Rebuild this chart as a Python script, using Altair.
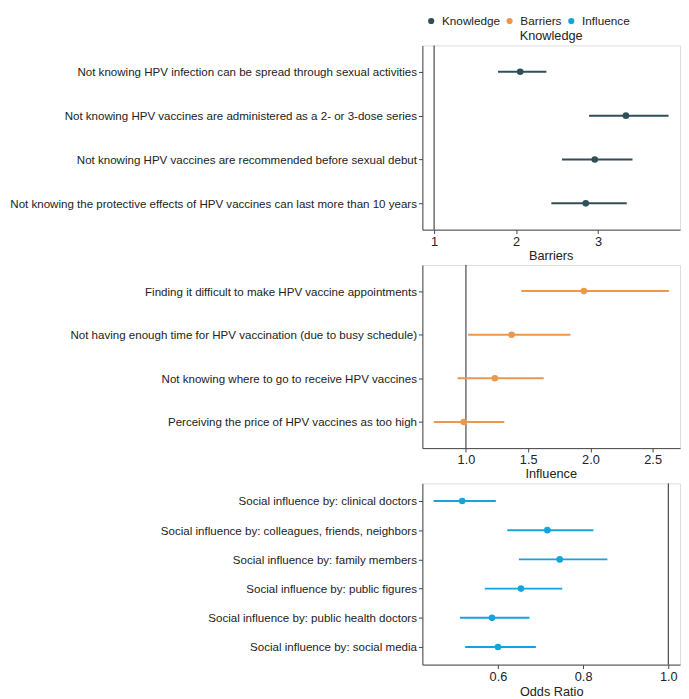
import altair as alt
import pandas as pd

groups = ["Knowledge", "Barriers", "Influence"]
colors = ["#2F4F57", "#E8994B", "#12A4DA"]

k_items = [
    "Not knowing HPV infection can be spread through sexual activities",
    "Not knowing HPV vaccines are administered as a 2- or 3-dose series",
    "Not knowing HPV vaccines are recommended before sexual debut",
    "Not knowing the protective effects of HPV vaccines can last more than 10 years",
]
k_or = [2.05, 3.34, 2.96, 2.85]
k_low = [1.78, 2.89, 2.56, 2.43]
k_high = [2.37, 3.86, 3.42, 3.35]

b_items = [
    "Finding it difficult to make HPV vaccine appointments",
    "Not having enough time for HPV vaccination (due to busy schedule)",
    "Not knowing where to go to receive HPV vaccines",
    "Perceiving the price of HPV vaccines as too high",
]
b_or = [1.948, 1.367, 1.232, 0.982]
b_low = [1.445, 1.018, 0.933, 0.742]
b_high = [2.63, 1.84, 1.625, 1.308]

i_items = [
    "Social influence by: clinical doctors",
    "Social influence by: colleagues, friends, neighbors",
    "Social influence by: family members",
    "Social influence by: public figures",
    "Social influence by: public health doctors",
    "Social influence by: social media",
]
i_or = [0.516, 0.716, 0.745, 0.654, 0.586, 0.600]
i_low = [0.449, 0.622, 0.649, 0.569, 0.511, 0.523]
i_high = [0.595, 0.824, 0.857, 0.751, 0.674, 0.689]

FONT = "Liberation Sans"
AXIS_COLOR = "#444444"


def panel(group, items, ors, lows, highs, domain, ticks, fmt, xtitle, height):
    df = pd.DataFrame({"item": items, "or": ors, "low": lows, "high": highs,
                       "group": group})
    xscale = alt.Scale(domain=domain, nice=False, zero=False)
    xaxis = alt.Axis(values=ticks, format=fmt, grid=False, title=xtitle,
                     labelFontSize=13, titleFontSize=13, titleFontWeight="normal",
                     labelColor="#222", titleColor="#222", labelFont=FONT, titleFont=FONT,
                     domainColor=AXIS_COLOR, tickColor=AXIS_COLOR, tickSize=4,
                     titlePadding=3, labelPadding=2, labelFlush=False)
    yaxis = alt.Axis(title=None, grid=False, labelFontSize=11.8, labelLimit=600,
                     labelColor="#222", labelFont=FONT,
                     domainColor=AXIS_COLOR, tickColor=AXIS_COLOR, tickSize=4,
                     labelPadding=2)
    y = alt.Y("item:N", sort=items, scale=alt.Scale(type="point", padding=0.6), axis=yaxis)
    color = alt.Color("group:N", scale=alt.Scale(domain=groups, range=colors),
                      legend=alt.Legend(title=None, orient="none", direction="horizontal",
                                        legendX=3, legendY=-31, padding=0,
                                        symbolType="circle", symbolSize=40,
                                        labelFontSize=12, labelFont=FONT,
                                        labelColor="#222", columnPadding=3,
                                        labelOffset=5, symbolStrokeWidth=0))
    base = alt.Chart(df)
    rules = base.mark_rule(strokeWidth=2).encode(
        x=alt.X("low:Q", scale=xscale, axis=xaxis), x2="high:Q", y=y, color=color)
    pts = base.mark_circle(size=45, opacity=1).encode(
        x=alt.X("or:Q", scale=xscale), y=y, color=color)
    vline = alt.Chart(pd.DataFrame({"ref": [1.0]})).mark_rule(
        color="#222222", strokeWidth=1).encode(x=alt.X("ref:Q", scale=xscale))
    return alt.layer(vline, rules, pts).properties(
        width=263, height=height,
        title=alt.TitleParams(group, fontSize=13, fontWeight="normal", font=FONT,
                              color="#222", anchor="middle", offset=2))


k = panel("Knowledge", k_items, k_or, k_low, k_high, [0.857, 4.0], [1, 2, 3], "d", None, 188)
b = panel("Barriers", b_items, b_or, b_low, b_high, [0.65, 2.72], [1.0, 1.5, 2.0, 2.5], ".1f", None, 187)
i = panel("Influence", i_items, i_or, i_low, i_high, [0.4225, 1.0275], [0.6, 0.8, 1.0], ".1f", "Odds Ratio", 185)

chart = alt.vconcat(k, b, i, spacing=0).configure_view(stroke=None).configure(
    padding={"left": 0, "top": 0, "right": 0, "bottom": 0})

chart.save("out.html", embed_options={"renderer": "svg", "actions": False})
